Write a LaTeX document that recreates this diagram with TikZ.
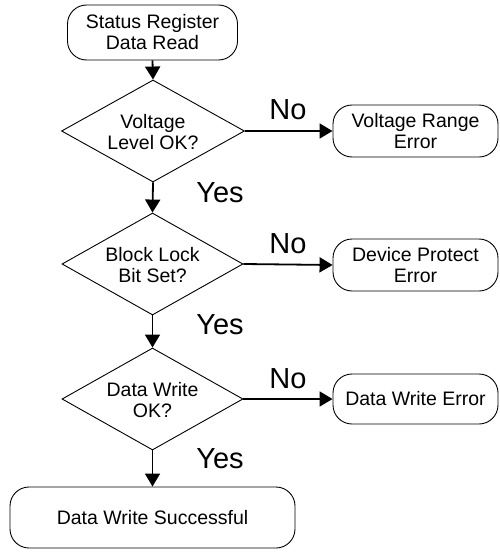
\documentclass[tikz,border=0pt]{standalone}
\usepackage{fontspec}
\setmainfont{Liberation Sans}
\usetikzlibrary{shapes.geometric,arrows.meta}
\tikzset{
  termbox/.style={draw=black, line width=0.9pt, rounded corners=19pt, inner sep=0pt, align=center,
    font=\fontsize{19.5}{21}\selectfont},
  decbox/.style={draw=black, line width=0.9pt, diamond, inner sep=0pt},
  dectext/.style={align=center, inner sep=0pt, font=\fontsize{19.5}{21}\selectfont},
  flow/.style={line width=1.8pt, -{Triangle[length=13pt,width=15pt]}},
  biglabel/.style={inner sep=0pt, font=\fontsize{29}{30}\selectfont}
}
\begin{document}
\begin{tikzpicture}[x=1pt,y=-1pt]
\useasboundingbox (0,0) rectangle (500,554);
\node[termbox, minimum width=170pt, minimum height=55pt] (start) at (152.5,32.5) {Status Register\\Data Read};
\node[decbox, minimum width=183pt, minimum height=102pt] (d1) at (153,131) {};
\node[dectext] (t1) at (153,132) {Voltage\\Level OK?};
\node[decbox, minimum width=181pt, minimum height=102pt] (d2) at (152.5,264) {};
\node[dectext] (t2) at (152.5,265) {Block Lock\\Bit Set?};
\node[decbox, minimum width=181pt, minimum height=102pt] (d3) at (152.5,399) {};
\node[dectext] (t3) at (152.5,400) {Data Write\\OK?};
\node[termbox, minimum width=165pt, minimum height=52pt] (e1) at (415.5,131) {Voltage Range\\Error};
\node[termbox, minimum width=165pt, minimum height=52pt] (e2) at (415.5,265) {Device Protect\\Error};
\node[termbox, minimum width=165pt, minimum height=50pt] (e3) at (415.5,399) {Data Write Error};
\node[termbox, minimum width=285pt, minimum height=61pt] (end) at (152.5,517.5) {Data Write Successful};

\draw[flow] (start.south) -- (d1.north);
\draw[flow] (d1.south) -- (d2.north);
\draw[flow] (d2.south) -- (d3.north);
\draw[flow] (d3.south) -- (end.north);
\draw[flow] (d1.east) -- (e1.west);
\draw[flow] (d2.east) -- (e2.west);
\draw[flow] (d3.east) -- (e3.west);

\node[biglabel] (y1) at (220,193) {Yes};
\node[biglabel] (y2) at (220,325) {Yes};
\node[biglabel] (y3) at (220,459) {Yes};
\node[biglabel] (n1) at (288,110) {No};
\node[biglabel] (n2) at (288,244) {No};
\node[biglabel] (n3) at (288,379) {No};
\end{tikzpicture}
\end{document}
